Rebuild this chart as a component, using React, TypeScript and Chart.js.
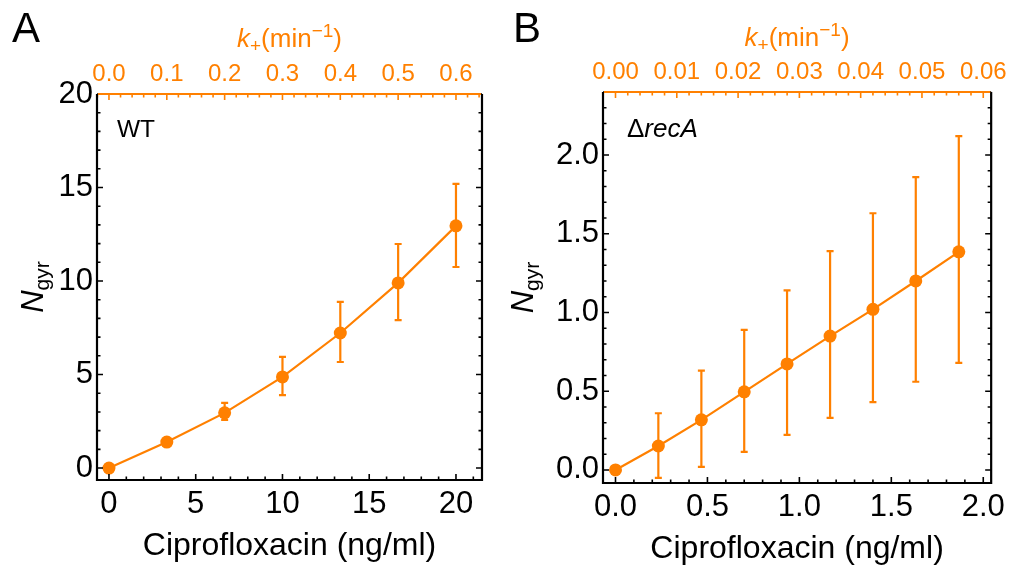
import React, { useEffect, useRef } from "react";
import { Chart, registerables } from "chart.js";
Chart.register(...registerables);

const ORANGE = "#ff8000";
const FONT = "'Liberation Sans', Arial, Helvetica, sans-serif";
const K_PER_CIPRO = 0.03; // k+ (min^-1) per ng/ml

// ---- Panel A: WT ----
const wtCipro = [0, 3.333, 6.667, 10, 13.333, 16.667, 20];
const wtNgyr = [0, 1.39, 2.95, 4.87, 7.22, 9.9, 12.95];
const wtLow = [0, 1.3, 2.57, 3.9, 5.67, 7.91, 10.75];
const wtHigh = [0, 1.48, 3.48, 5.94, 8.88, 11.98, 15.19];
const wtXTicks = [0, 5, 10, 15, 20];
const wtYTicks = [0, 5, 10, 15, 20];
const wtKTicks = [0, 0.1, 0.2, 0.3, 0.4, 0.5, 0.6];

// ---- Panel B: ΔrecA ----
const recCipro = [0, 0.233, 0.467, 0.7, 0.933, 1.167, 1.4, 1.633, 1.867];
const recNgyr = [0, 0.152, 0.318, 0.496, 0.673, 0.85, 1.02, 1.2, 1.385];
const recLow = [0, -0.05, 0.02, 0.115, 0.222, 0.33, 0.43, 0.56, 0.68];
const recHigh = [0, 0.36, 0.63, 0.89, 1.14, 1.39, 1.63, 1.86, 2.12];
const recXTicks = [0, 0.5, 1.0, 1.5, 2.0];
const recYTicks = [0, 0.5, 1.0, 1.5, 2.0];
const recKTicks = [0, 0.01, 0.02, 0.03, 0.04, 0.05, 0.06];

type Seg = { t: string; size: number; italic?: boolean; dy?: number };

type PanelSpec = {
  id: string;
  letter: string;
  label: Seg[];
  xs: number[];
  ys: number[];
  lo: number[];
  hi: number[];
  xMin: number;
  xMax: number;
  yMin: number;
  yMax: number;
  xTicks: number[];
  yTicks: number[];
  kTicks: number[];
  xDec: number;
  yDec: number;
  kDec: number;
  xMinor: number;
  yMinor: number;
  kMinor: number;
  leftW: number;
  topH: number;
  bottomH: number;
  rightPad: number;
  yTitleX: number;
  letterX: number;
  labelX: number;
  bottomTitleY: number;
  topTitleY: number;
};

const panels: PanelSpec[] = [
  {
    id: "A",
    letter: "A",
    label: [{ t: "WT", size: 24.5 }],
    xs: wtCipro,
    ys: wtNgyr,
    lo: wtLow,
    hi: wtHigh,
    xMin: -0.69,
    xMax: 21.5,
    yMin: -0.64,
    yMax: 20,
    xTicks: wtXTicks,
    yTicks: wtYTicks,
    kTicks: wtKTicks,
    xDec: 0,
    yDec: 0,
    kDec: 1,
    xMinor: 1,
    yMinor: 1,
    kMinor: 0.02,
    leftW: 97,
    topH: 94,
    bottomH: 91,
    rightPad: 24,
    yTitleX: 43,
    letterX: 12,
    labelX: 117,
    bottomTitleY: 555,
    topTitleY: 47,
  },
  {
    id: "B",
    letter: "B",
    label: [
      { t: "\u0394", size: 26 },
      { t: "recA", size: 26, italic: true },
    ],
    xs: recCipro,
    ys: recNgyr,
    lo: recLow,
    hi: recHigh,
    xMin: -0.068,
    xMax: 2.043,
    yMin: -0.083,
    yMax: 2.4,
    xTicks: recXTicks,
    yTicks: recYTicks,
    kTicks: recKTicks,
    xDec: 1,
    yDec: 1,
    kDec: 2,
    xMinor: 0.1,
    yMinor: 0.1,
    kMinor: 0.002,
    leftW: 97,
    topH: 92,
    bottomH: 88,
    rightPad: 19,
    yTitleX: 27,
    letterX: 7,
    labelX: 121,
    bottomTitleY: 558,
    topTitleY: 46,
  },
];

function fontStr(s: Seg) {
  return `${s.italic ? "italic " : ""}${s.size}px ${FONT}`;
}

function segWidth(ctx: CanvasRenderingContext2D, segs: Seg[]) {
  let w = 0;
  for (const s of segs) {
    ctx.font = fontStr(s);
    w += ctx.measureText(s.t).width;
  }
  return w;
}

function drawSegs(ctx: CanvasRenderingContext2D, segs: Seg[], x: number, y: number) {
  let cx = x;
  ctx.textBaseline = "alphabetic";
  ctx.textAlign = "left";
  for (const s of segs) {
    ctx.font = fontStr(s);
    ctx.fillText(s.t, cx, y + (s.dy || 0));
    cx += ctx.measureText(s.t).width;
  }
}

function stepValues(min: number, max: number, step: number) {
  const out: number[] = [];
  const a = Math.ceil(min / step - 1e-9);
  const b = Math.floor(max / step + 1e-9);
  for (let i = a; i <= b; i++) out.push(i * step);
  return out;
}

function makePlugin(p: PanelSpec) {
  return {
    id: "deco" + p.id,
    beforeDatasetsDraw(chart: any) {
      const ctx: CanvasRenderingContext2D = chart.ctx;
      const xs = chart.scales.x;
      const ys = chart.scales.y;
      ctx.save();
      ctx.strokeStyle = ORANGE;
      ctx.lineWidth = 2.2;
      p.xs.forEach((xv, i) => {
        const px = xs.getPixelForValue(xv);
        const pl = ys.getPixelForValue(p.lo[i]);
        const ph = ys.getPixelForValue(p.hi[i]);
        if (Math.abs(pl - ph) < 1) return;
        ctx.beginPath();
        ctx.moveTo(px, pl);
        ctx.lineTo(px, ph);
        ctx.moveTo(px - 3.5, pl);
        ctx.lineTo(px + 3.5, pl);
        ctx.moveTo(px - 3.5, ph);
        ctx.lineTo(px + 3.5, ph);
        ctx.stroke();
      });
      ctx.restore();
    },
    afterDraw(chart: any) {
      const ctx: CanvasRenderingContext2D = chart.ctx;
      const { left, right, top, bottom } = chart.chartArea;
      const xs = chart.scales.x;
      const ys = chart.scales.y;
      const ks = chart.scales.x2;
      ctx.save();
      // ticks
      const MAJ = 6;
      const MIN = 3.5;
      ctx.lineWidth = 1.6;
      ctx.strokeStyle = "#000";
      const xMinorV = stepValues(p.xMin, p.xMax, p.xMinor);
      const yMinorV = stepValues(p.yMin, p.yMax, p.yMinor);
      ctx.beginPath();
      xMinorV.forEach((v) => {
        const px = xs.getPixelForValue(v);
        ctx.moveTo(px, bottom);
        ctx.lineTo(px, bottom - MIN);
      });
      p.xTicks.forEach((v) => {
        const px = xs.getPixelForValue(v);
        ctx.moveTo(px, bottom);
        ctx.lineTo(px, bottom - MAJ);
      });
      yMinorV.forEach((v) => {
        const py = ys.getPixelForValue(v);
        ctx.moveTo(left, py);
        ctx.lineTo(left + MIN, py);
        ctx.moveTo(right, py);
        ctx.lineTo(right - MIN, py);
      });
      p.yTicks.forEach((v) => {
        const py = ys.getPixelForValue(v);
        ctx.moveTo(left, py);
        ctx.lineTo(left + MAJ, py);
        ctx.moveTo(right, py);
        ctx.lineTo(right - MAJ, py);
      });
      ctx.stroke();
      ctx.strokeStyle = ORANGE;
      ctx.beginPath();
      stepValues(ks.min, ks.max, p.kMinor).forEach((v) => {
        const px = ks.getPixelForValue(v);
        ctx.moveTo(px, top);
        ctx.lineTo(px, top + MIN);
      });
      p.kTicks.forEach((v) => {
        const px = ks.getPixelForValue(v);
        ctx.moveTo(px, top);
        ctx.lineTo(px, top + MAJ);
      });
      ctx.stroke();
      // frame
      ctx.lineWidth = 2.2;
      ctx.strokeStyle = "#000";
      ctx.beginPath();
      ctx.moveTo(left, top);
      ctx.lineTo(left, bottom);
      ctx.lineTo(right, bottom);
      ctx.lineTo(right, top);
      ctx.stroke();
      ctx.strokeStyle = ORANGE;
      ctx.beginPath();
      ctx.moveTo(left + 1, top);
      ctx.lineTo(right - 1, top);
      ctx.stroke();

      // texts
      ctx.fillStyle = "#000";
      drawSegs(ctx, [{ t: p.letter, size: 42 }], p.letterX, 42);
      drawSegs(ctx, p.label, p.labelX, 137);
      const cx = (left + right) / 2;
      const bt: Seg[] = [{ t: "Ciprofloxacin (ng/ml)", size: 32 }];
      drawSegs(ctx, bt, cx - segWidth(ctx, bt) / 2, p.bottomTitleY);
      // y title
      const yt: Seg[] = [
        { t: "N", size: 31, italic: true },
        { t: "gyr", size: 21, dy: 6 },
      ];
      const cy = (top + bottom) / 2;
      ctx.save();
      ctx.translate(p.yTitleX, cy);
      ctx.rotate(-Math.PI / 2);
      drawSegs(ctx, yt, -segWidth(ctx, yt) / 2, 0);
      ctx.restore();
      // top title
      ctx.fillStyle = ORANGE;
      const tt: Seg[] = [
        { t: "k", size: 26, italic: true },
        { t: "+", size: 19, dy: 5 },
        { t: "(min", size: 26 },
        { t: "\u22121", size: 19, dy: -10 },
        { t: ")", size: 26 },
      ];
      drawSegs(ctx, tt, cx - segWidth(ctx, tt) / 2, p.topTitleY);
      ctx.restore();
    },
  };
}

function buildConfig(p: PanelSpec): any {
  const tickFont = { size: 31, family: FONT };
  return {
    type: "scatter",
    data: {
      datasets: [
        {
          data: p.xs.map((x, i) => ({ x, y: p.ys[i] })),
          showLine: true,
          borderColor: ORANGE,
          borderWidth: 2.2,
          backgroundColor: ORANGE,
          pointBackgroundColor: ORANGE,
          pointBorderWidth: 0,
          pointRadius: 6.5,
          clip: false,
        },
      ],
    },
    options: {
      responsive: false,
      animation: false,
      events: [],
      layout: { padding: { left: 0, right: p.rightPad, top: 0, bottom: 0 } },
      plugins: { legend: { display: false }, tooltip: { enabled: false }, title: { display: false } },
      scales: {
        x: {
          type: "linear",
          position: "bottom",
          min: p.xMin,
          max: p.xMax,
          afterBuildTicks: (s: any) => {
            s.ticks = p.xTicks.map((value) => ({ value }));
          },
          afterFit: (s: any) => {
            s.height = p.bottomH;
          },
          ticks: {
            font: tickFont,
            color: "#000",
            padding: 6,
            maxRotation: 0,
            autoSkip: false,
            callback: (v: any) => Number(v).toFixed(p.xDec),
          },
          grid: { display: false, drawTicks: false },
          border: { display: false },
        },
        x2: {
          type: "linear",
          position: "top",
          min: p.xMin * K_PER_CIPRO,
          max: p.xMax * K_PER_CIPRO,
          afterBuildTicks: (s: any) => {
            s.ticks = p.kTicks.map((value) => ({ value }));
          },
          afterFit: (s: any) => {
            s.height = p.topH;
          },
          ticks: {
            font: { size: 24, family: FONT },
            color: ORANGE,
            padding: 5,
            maxRotation: 0,
            autoSkip: false,
            callback: (v: any) => Number(v).toFixed(p.kDec),
          },
          grid: { display: false, drawTicks: false },
          border: { display: false },
        },
        y: {
          type: "linear",
          position: "left",
          min: p.yMin,
          max: p.yMax,
          afterBuildTicks: (s: any) => {
            s.ticks = p.yTicks.map((value) => ({ value }));
          },
          afterFit: (s: any) => {
            s.width = p.leftW;
          },
          ticks: {
            font: tickFont,
            color: "#000",
            padding: 4,
            autoSkip: false,
            callback: (v: any) => Number(v).toFixed(p.yDec),
          },
          grid: { display: false, drawTicks: false },
          border: { display: false },
        },
      },
    },
    plugins: [makePlugin(p)],
  };
}

function Panel({ spec, left }: { spec: PanelSpec; left: number }) {
  const ref = useRef<HTMLCanvasElement | null>(null);
  useEffect(() => {
    if (!ref.current) return;
    const chart = new Chart(ref.current, buildConfig(spec));
    return () => chart.destroy();
  }, [spec]);
  return (
    <canvas
      ref={ref}
      width={506}
      height={571}
      style={{ position: "absolute", left, top: 0, width: 506, height: 571 }}
    />
  );
}

export default function App() {
  return (
    <div
      style={{
        position: "absolute",
        left: 0,
        top: 0,
        width: 1012,
        height: 571,
        background: "#fff",
        overflow: "hidden",
      }}
    >
      <Panel spec={panels[0]} left={0} />
      <Panel spec={panels[1]} left={506} />
    </div>
  );
}
